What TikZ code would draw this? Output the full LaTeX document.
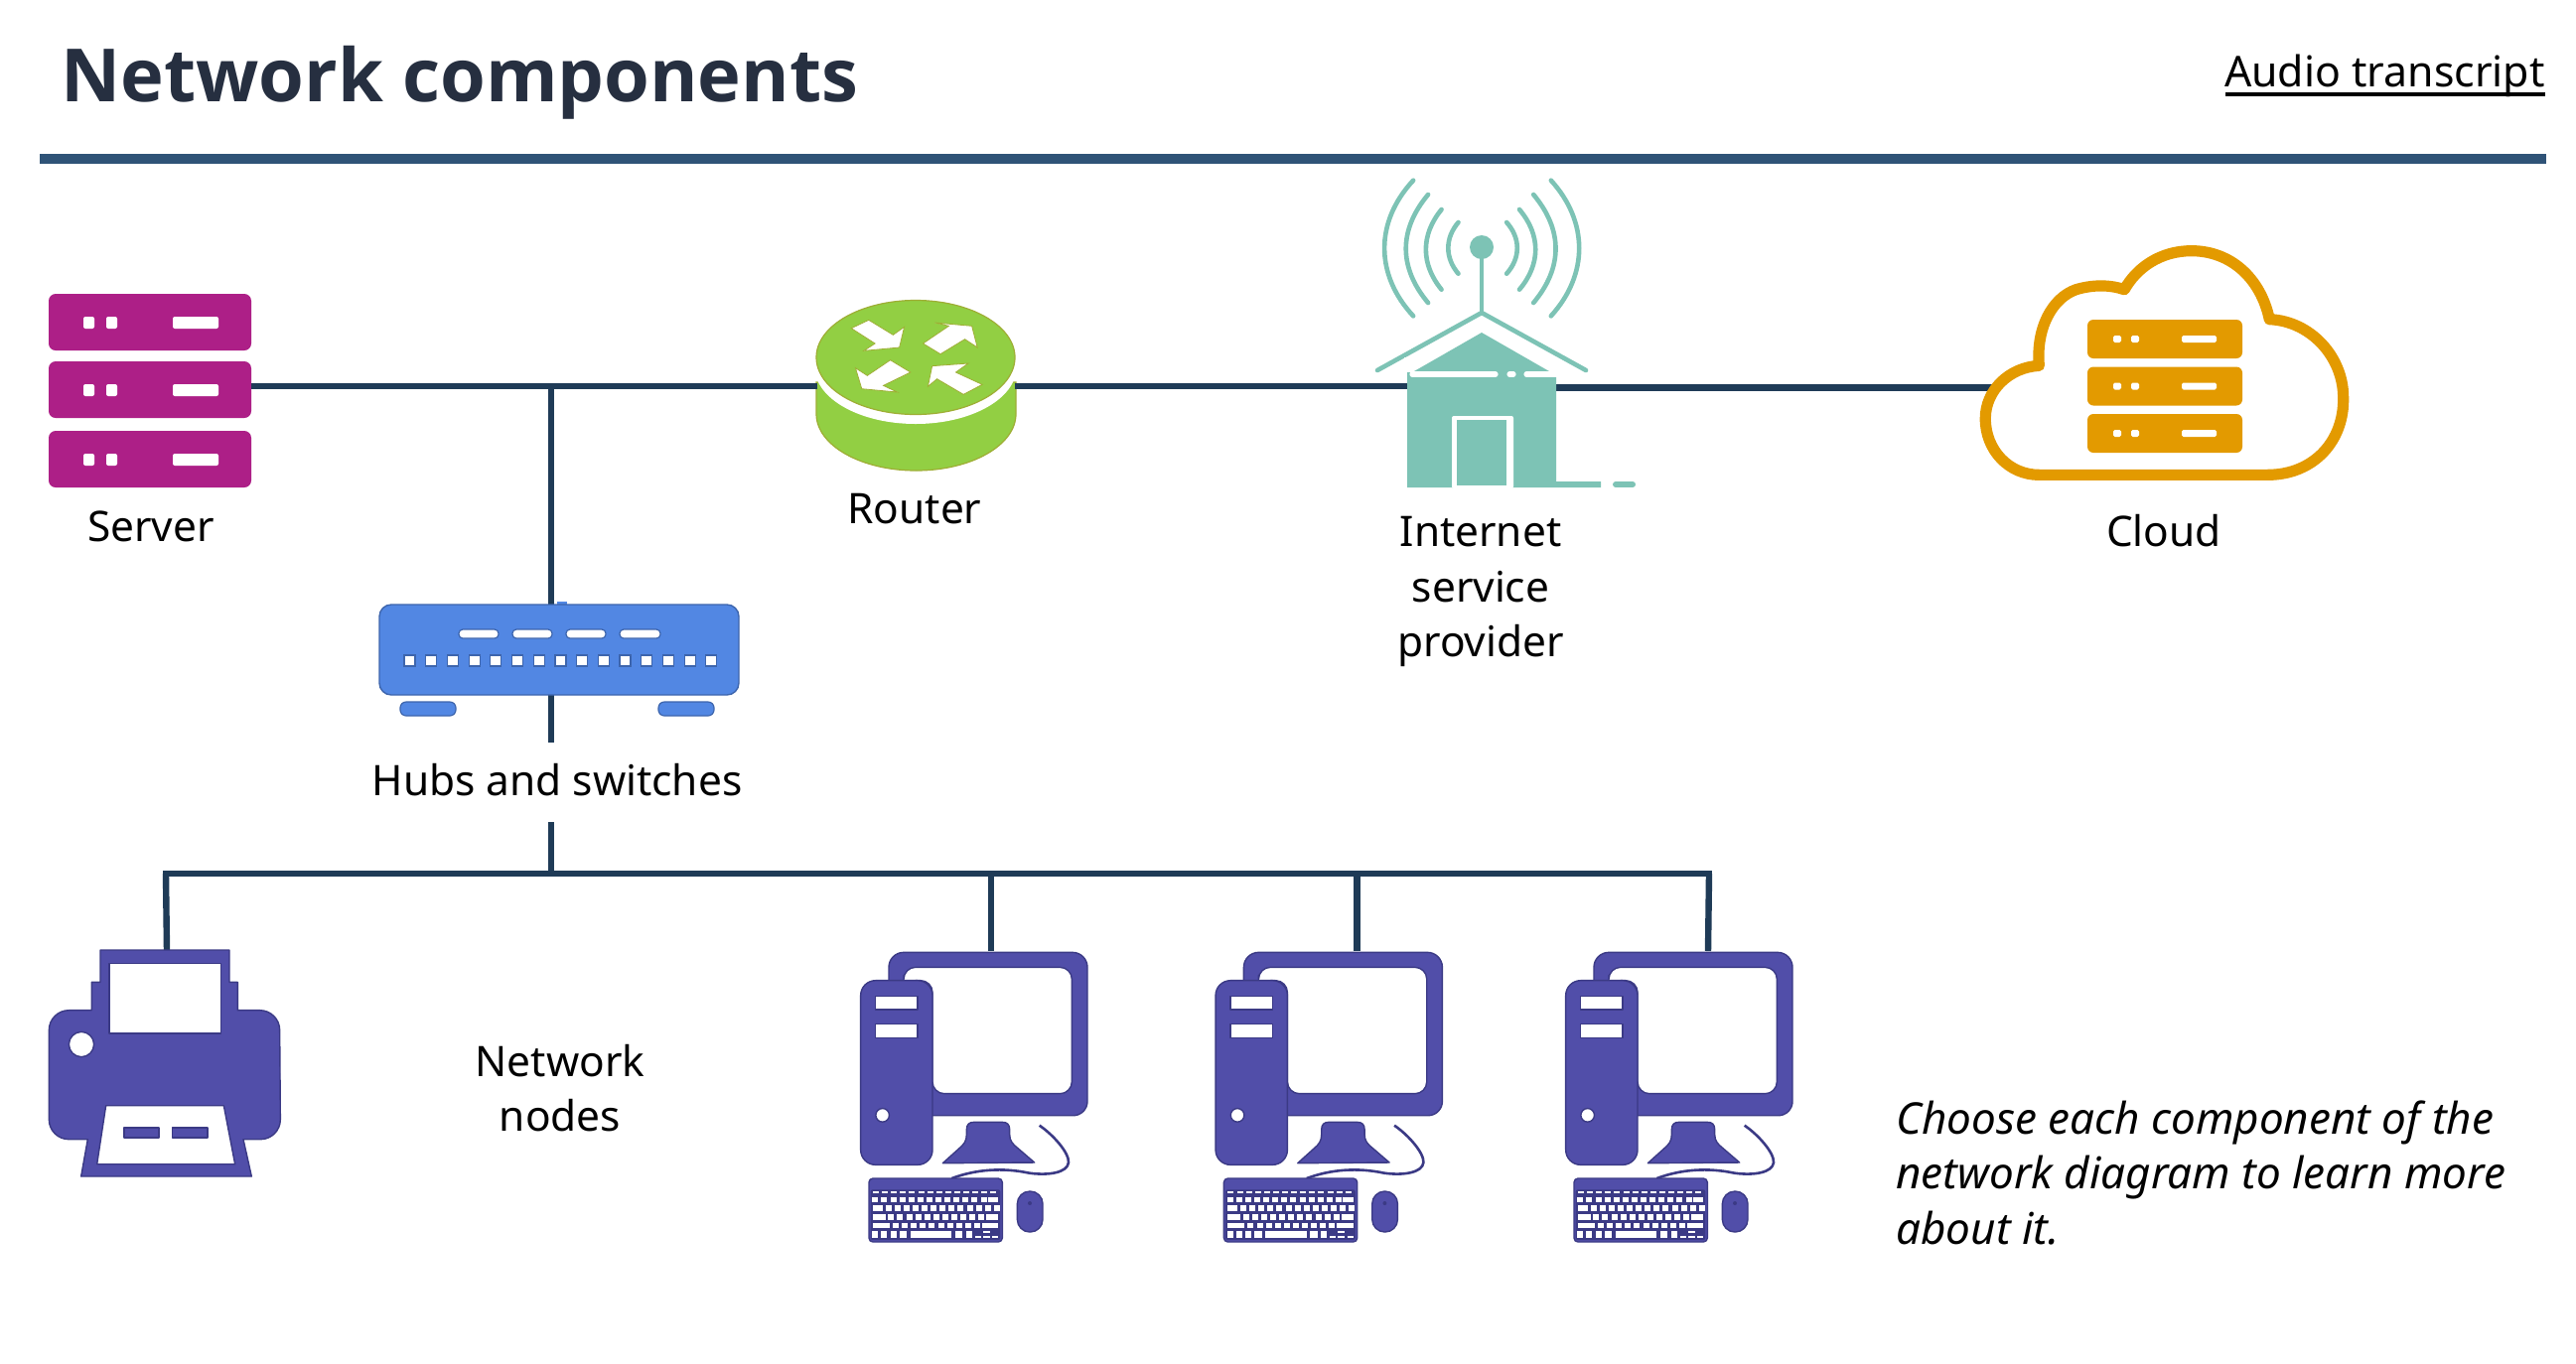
\documentclass[tikz,border=0pt]{standalone}
\usepackage{fontspec}
\setmainfont{Noto Sans}
\newfontfamily\titlefont{Open Sans}
\definecolor{linkc}{HTML}{1F3B57}
\definecolor{rulec}{HTML}{2F5377}
\definecolor{titlec}{HTML}{262F40}
\definecolor{magc}{HTML}{AD1F87}
\definecolor{grnc}{HTML}{92CF43}
\definecolor{grne}{HTML}{9EAE34}
\definecolor{bluc}{HTML}{5287E3}
\definecolor{blue}{HTML}{3D65AD}
\definecolor{tealc}{HTML}{7DC3B5}
\definecolor{orac}{HTML}{E39A00}
\definecolor{purc}{HTML}{514EA9}
\definecolor{pure}{HTML}{3B3A85}
\tikzset{
 link/.style={draw=linkc,line width=3.2pt},
 lbl/.style={font=\fontsize{21.2}{27.75}\selectfont,align=center,inner sep=0pt,text=black},
 pur/.style={fill=purc,draw=pure,line width=0.7pt,line join=round},
 hole/.style={fill=white,draw=pure,line width=0.7pt,line join=round},
 tealline/.style={draw=tealc,line width=2.3pt,line cap=round},
 whitepill/.style={draw=white,line width=2.6pt,line cap=round},
}
% rack unit: left top right bottom ledx ledw barx ledy colour
\newcommand{\rackunit}[9]{%
 \fill[#9,rounded corners=3.5pt] (#1,#2) rectangle (#3,#4);
 \fill[white,rounded corners=1pt] (#1+#5,#2+#8-6) rectangle (#1+#5+#6,#2+#8+6);
 \fill[white,rounded corners=1pt] (#1+#5+23,#2+#8-6) rectangle (#1+#5+23+#6,#2+#8+6);
 \fill[white,rounded corners=1pt] (#1+#7,#2+#8-6) rectangle (#3-33,#2+#8+6);
}
\newcommand{\computer}[1]{%
 \begin{scope}[shift={(850+#1,941)},x=0.16667pt,y=-0.16667pt]
 \path[pur] (135,150) -- (135,100) arc[start angle=180,end angle=90,radius=7.5pt]
   -- (690,55) arc[start angle=90,end angle=0,radius=7.5pt]
   -- (735,505) arc[start angle=0,end angle=-90,radius=7.2pt]
   -- (250,548) -- (250,150) -- cycle;
 \path[hole,rounded corners=6pt] (180,160) -- (180,100) -- (688,100) -- (688,482) -- (267,482) -- (267,140) -- (180,140) -- cycle;
 \path[pur,rounded corners=7.5pt] (50,140) rectangle (267,697);
 \path[hole] (95,187) rectangle (222,228);
 \path[hole] (95,272) rectangle (222,313);
 \path[hole] (116,547) circle[radius=3.4pt];
 \path[pur] (370,590) .. controls (370,575) and (378,568) .. (392,568) -- (478,568) .. controls (492,568) and (500,575) .. (500,590)
   -- (500,605) .. controls (500,625) and (510,635) .. (525,647) -- (575,690) -- (298,692) -- (348,647) .. controls (362,635) and (370,625) .. (370,605) -- cycle;
 \draw[pure,line width=1.3pt] (590,578) .. controls (630,605) and (680,660) .. (678,690) .. controls (675,720) and (620,730) .. (560,722) .. controls (480,705) and (400,710) .. (325,738);
 \path[pur,rounded corners=2pt] (75,738) rectangle (478,930);
 \fill[pure,rounded corners=1pt] (80,772) rectangle (472,924);
 \begin{scope}[shift={(30,690)}]
  \foreach \k in {0,...,13} \fill[white] ({57+27.3*\k},88) rectangle ++(18,6);
  \foreach \k in {0,...,12} \fill[white] ({55+27.3*\k},104) rectangle ++(18,17);
  \fill[white] (405,104) rectangle (436,121);
  \fill[white] (57,130) rectangle (87,147);
  \foreach \k in {0,...,12} \fill[white] ({95+27.3*\k},130) rectangle ++(18,17);
  \fill[white] (57,157) rectangle (95,173);
  \foreach \k in {0,...,10} \fill[white] ({103+27.3*\k},157) rectangle ++(18,16);
  \fill[white] (400,157) rectangle (436,173);
  \fill[white] (57,182) rectangle (107,199);
  \foreach \k in {0,...,9} \fill[white] ({117+27.3*\k},182) rectangle ++(18,17);
  \fill[white] (387,182) rectangle (436,199);
  \foreach \k in {0,1,2} \fill[white] ({55+27.3*\k},208) rectangle ++(18,19);
  \fill[white] (138,208) rectangle (160,227);
  \fill[white] (171,208) rectangle (295,227);
  \fill[white] (305,208) rectangle (328,227);
  \fill[white] (338,208) rectangle (356,227);
  \fill[white] (365,222) rectangle (383,227);
  \fill[white] (390,208) rectangle (410,213);
  \fill[white] (390,222) rectangle (410,227);
  \fill[white] (418,222) rectangle (436,227);
 \end{scope}
 \path[pur,rounded corners=6.3pt] (523,777) rectangle (600,900);
 \fill[pure] (561,813) circle[radius=1pt];
 \end{scope}
}
\begin{document}
\begin{tikzpicture}[x=0.5pt,y=-0.5pt]
\useasboundingbox (0,0) rectangle (2594,1373);
\fill[white] (0,0) rectangle (2594,1373);
% header
\node[anchor=base west,inner sep=0pt,font=\titlefont\fontsize{37}{40}\selectfont\bfseries,text=titlec] (title) at (61,102) {Network components};
\node[anchor=base east,inner sep=0pt,font=\fontsize{21.4}{26}\selectfont,text=black] (audio) at (2563,87) {Audio transcript};
\coordinate (ulL) at (2241,95);
\coordinate (ulR) at (2563,95);
\draw[black,line width=1.8pt] (ulL) -- (ulR);
\coordinate (ruleL) at (40,160);
\coordinate (ruleR) at (2564,160);
\draw[rulec,line width=5pt] (ruleL) -- (ruleR);
% connector anchors
\coordinate (srvR) at (253,389);
\coordinate (tee) at (555,389);
\coordinate (rtrL) at (823,389);
\coordinate (rtrR) at (1022,389);
\coordinate (ispL) at (1417,389);
\coordinate (ispR) at (1567,390.5);
\coordinate (cldL) at (2010,390.5);
\coordinate (hubT) at (555,609);
\coordinate (hubB) at (555,700);
\coordinate (hubE) at (555,748);
\coordinate (busS) at (555,828);
\coordinate (busJ) at (555,880);
\coordinate (busA) at (167,880);
\coordinate (busB) at (1721,880);
\coordinate (prnT) at (168,958);
\coordinate (pc1) at (998,958);
\coordinate (pc2) at (1366.5,958);
\coordinate (pc3) at (1720,958);
\draw[link] (srvR) -- (rtrL);
\draw[link] (rtrR) -- (ispL);
\draw[link] (ispR) -- (cldL);
\draw[link] (tee) -- (hubT);
\draw[link] (hubB) -- (hubE);
\draw[link] (busS) -- (busJ);
\draw[link,line cap=rect] (busA) -- (busB);
\draw[link] (busA) -- (prnT);
\draw[link] (pc1 |- busJ) -- (pc1);
\draw[link] (pc2 |- busJ) -- (pc2);
\draw[link] (busB) -- (pc3);
% server
\rackunit{49}{296}{253}{353}{35}{11}{125}{29}{magc}
\rackunit{49}{364}{253}{421}{35}{11}{125}{29}{magc}
\rackunit{49}{434}{253}{491}{35}{11}{125}{29}{magc}
\node[lbl] (serverlabel) at (152,530) {Server};
% router
\path[fill=grnc,draw=grne,line width=0.6pt] (822,385) -- (822,417) arc[start angle=180,end angle=0,x radius=100.5,y radius=57] -- (1023,385) -- cycle;
\fill[white] (922,370) ellipse[x radius=101.5,y radius=57];
\fill[white] (815,300) rectangle (1030,372);
\draw[link] (srvR) -- (rtrL);
\draw[link] (rtrR) -- (1100,389);
\path[fill=grnc,draw=grne,line width=0.6pt] (922,360) ellipse[x radius=100,y radius=57.5];
\begin{scope}[shift={(0,260)},x=0.35075pt,y=-0.16667pt]
\path[fill=white,draw=grne,line width=0.4pt] (1222,212) -- (1247,187) -- (1282,232) -- (1298,208) -- (1291,270) -- (1240,280) -- (1256,258) -- cycle;
\path[fill=white,draw=grne,line width=0.4pt] (1325,258) -- (1362,205) -- (1342,195) -- (1395,205) -- (1403,270) -- (1385,245) -- (1350,290) -- cycle;
\path[fill=white,draw=grne,line width=0.4pt] (1228,332) -- (1245,355) -- (1278,308) -- (1307,345) -- (1268,385) -- (1288,405) -- (1237,395) -- cycle;
\path[fill=white,draw=grne,line width=0.4pt] (1332,388) -- (1338,326) -- (1390,318) -- (1372,345) -- (1410,382) -- (1383,412) -- (1345,365) -- cycle;
\end{scope}
\node[lbl] (routerlabel) at (921,513) {Router};
% hub
\fill[bluc] (561,606) rectangle (571,610);
\path[fill=bluc,draw=blue,line width=0.7pt,rounded corners=6pt] (382,609) rectangle (744,700);
\foreach \a/\b in {462/502,516/556,570/610,624/665}
  \path[fill=white,draw=blue,line width=0.6pt,rounded corners=2pt] (\a,634) rectangle (\b,643);
\foreach \k in {0,...,14}
  \path[fill=white,draw=blue,line width=0.6pt] ({407+21.7*\k},660) rectangle ++(11,11);
\path[fill=bluc,draw=blue,line width=0.6pt,rounded corners=3pt] (403,707) rectangle (459,721);
\path[fill=bluc,draw=blue,line width=0.6pt,rounded corners=3pt] (663,707) rectangle (719,721);
\node[lbl] (hublabel) at (561,786) {Hubs and switches};
% ISP
\begin{scope}[shift={(1340,160)},x=0.33807pt,y=-0.16667pt]
\draw[tealline] (123,65) .. controls (65.7,190) and (65.7,350) .. (123,475);
\draw[tealline] (145,108) .. controls (101,215) and (101,328) .. (145,435);
\draw[tealline] (165,153) .. controls (134,230) and (134,318) .. (165,395);
\draw[tealline] (190,192) .. controls (170,240) and (170,299) .. (190,347);
\draw[tealline] (328,65) .. controls (384,190) and (384,350) .. (328,475);
\draw[tealline] (302,108) .. controls (346,215) and (346,328) .. (302,435);
\draw[tealline] (281,153) .. controls (313,230) and (313,318) .. (281,395);
\draw[tealline] (262,192) .. controls (283,240) and (283,299) .. (262,347);
\end{scope}
\fill[tealc] (1492,249) circle[radius=6pt];
\draw[tealline,line cap=butt] (1492,249) -- (1492,316);
\draw[tealline,line join=miter] (1387,373) -- (1492,315) -- (1597,373);
\fill[tealc] (1492,335) -- (1424,374) -- (1417,374) -- (1417,491) -- (1612,491) -- (1612,485) -- (1567,485) -- (1567,374) -- (1560,374) -- cycle;
\draw[tealc,line width=3pt,line cap=round] (1567,488) -- (1609,488);
\draw[tealc,line width=3pt,line cap=round] (1627,488) -- (1644,488);
\draw[whitepill] (1422,377) -- (1506,377);
\draw[whitepill] (1520,377) -- (1524,377);
\draw[whitepill] (1537,377) -- (1572,377);
\fill[white] (1414,360) -- (1424,360) -- (1424,374.5) -- (1414,374.5) -- cycle;
\fill[white,rounded corners=1pt] (1462,419) rectangle (1524,492);
\fill[tealc] (1467,423) rectangle (1517,489);
\node[lbl] (isplabel) at (1491,596) {Internet\\service\\provider};
% cloud
\begin{scope}[shift={(1340,160)},x=0.33807pt,y=-0.16667pt]
\draw[orac,line width=5.6pt,line join=round,fill=white]
 (1055,955) -- (1395,955) .. controls (1465,955) and (1510,850) .. (1508,720)
 .. controls (1508,600) and (1460,490) .. (1398,485)
 .. controls (1385,360) and (1340,278) .. (1282,278)
 .. controls (1235,278) and (1200,330) .. (1182,395)
 .. controls (1160,380) and (1135,380) .. (1110,395)
 .. controls (1075,420) and (1050,510) .. (1055,625)
 .. controls (1010,630) and (975,700) .. (975,785)
 .. controls (975,880) and (1010,955) .. (1055,955) -- cycle;
\end{scope}
\foreach \t in {322,369.5,417}{
 \fill[orac,rounded corners=3pt] (2102,\t) rectangle (2258,\t+39);
 \fill[white,rounded corners=0.8pt] (2128,\t+16) rectangle (2136,\t+23);
 \fill[white,rounded corners=0.8pt] (2146,\t+16) rectangle (2154,\t+23);
 \fill[white,rounded corners=0.8pt] (2197,\t+16) rectangle (2232,\t+23);
}
\node[lbl] (cloudlabel) at (2179,535) {Cloud};
% printer
\begin{scope}[shift={(30,931)},x=0.16667pt,y=-0.16667pt]
\path[pur] (213,78) -- (603,78) -- (603,175) -- (628,175) -- (628,260) -- (695,260)
  arc[start angle=90,end angle=0,radius=10pt] -- (757,590) arc[start angle=0,end angle=-90,radius=10pt]
  -- (645,650) -- (670,762) -- (155,762) -- (175,650) -- (118,650)
  arc[start angle=270,end angle=180,radius=10pt] -- (58,320) arc[start angle=180,end angle=90,radius=10pt]
  -- (187,260) -- (187,175) -- (213,175) -- cycle;
\path[hole] (240,118) rectangle (577,330);
\path[hole] (156,363) circle[radius=6.3pt];
\path[hole] (230,548) -- (586,548) -- (620,725) -- (203,725) -- cycle;
\path[pur] (285,615) rectangle (390,645);
\path[pur] (430,615) rectangle (537,645);
\end{scope}
\node[lbl] (nodeslabel) at (564,1096) {Network\\nodes};
% computers
\computer{0}
\computer{357.4}
\computer{710}
% instruction
\node[anchor=west,lbl,align=left,font=\fontsize{22}{27.75}\selectfont\itshape] (hint) at (1909,1181) {Choose each component of the\\network diagram to learn more\\about it.};
\end{tikzpicture}
\end{document}
